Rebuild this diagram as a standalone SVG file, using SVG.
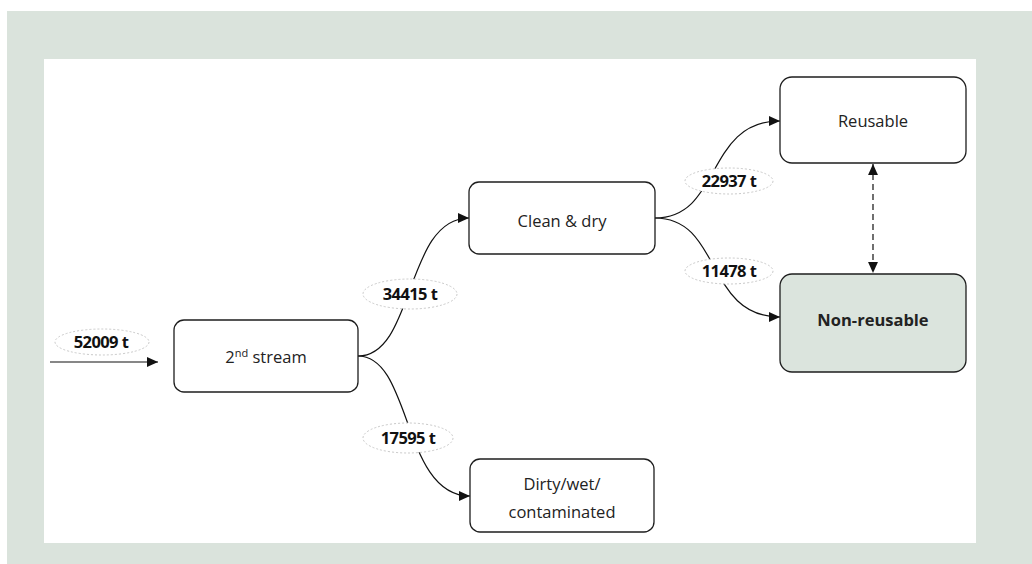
<svg xmlns="http://www.w3.org/2000/svg" width="1032" height="564" viewBox="0 0 1032 564">
  <style>
    .box { fill: #ffffff; stroke: #1e1e1e; stroke-width: 1.3; }
    .box.dark { fill: #dbe4dd; }
    .txt { font-family: "Open Sans", "Liberation Sans", sans-serif; font-size: 16.5px; fill: #222; text-anchor: middle; }
    .bold { font-weight: bold; }
    .tag { fill: #ffffff; stroke: #c9c9c9; stroke-width: 1; stroke-dasharray: 2 2; }
    .lbl { font-family: "Open Sans", "Liberation Sans", sans-serif; font-size: 16.5px; font-weight: bold; fill: #111; text-anchor: middle; letter-spacing: -0.6px; }
    .edge { fill: none; stroke: #111; stroke-width: 1.2; }
    .dash { stroke-dasharray: 6 4; }
  </style>
  <defs>
    <marker id="arrow" viewBox="0 0 10 10" refX="10" refY="5" markerWidth="11" markerHeight="11" markerUnits="userSpaceOnUse" orient="auto-start-reverse">
      <path d="M0,0.5 L10,5 L0,9.5 Z" fill="#111"/>
    </marker>
  </defs>

  <!-- panel -->
  <rect x="7" y="11" width="1025" height="553" fill="#dae3dc"/>
  <rect x="44" y="59" width="932" height="484" fill="#ffffff"/>

  <!-- connectors -->
  <g id="connectors">
    <path class="edge" d="M50,362 L158,362" marker-end="url(#arrow)"/>
    <path class="edge" d="M358,356 C415,356 405,218 469,218" marker-end="url(#arrow)"/>
    <path class="edge" d="M358,356 C412,356 402,496 470,496" marker-end="url(#arrow)"/>
    <path class="edge" d="M655,218 C722,218 705,121 780,121" marker-end="url(#arrow)"/>
    <path class="edge" d="M655,218 C722,218 705,317 780,317" marker-end="url(#arrow)"/>
    <path class="edge dash" d="M873,164 L873,273" marker-start="url(#arrow)" marker-end="url(#arrow)"/>
  </g>

  <!-- flow quantities -->
  <g id="label-52009">
    <ellipse class="tag" cx="102" cy="342" rx="47" ry="13"/>
    <text class="lbl" x="101" y="348">52009 t</text>
  </g>
  <g id="label-34415">
    <ellipse class="tag" cx="410" cy="294" rx="47" ry="15"/>
    <text class="lbl" x="410" y="300">34415 t</text>
  </g>
  <g id="label-17595">
    <ellipse class="tag" cx="408" cy="438" rx="45" ry="15"/>
    <text class="lbl" x="408" y="444">17595 t</text>
  </g>
  <g id="label-22937">
    <ellipse class="tag" cx="729" cy="181" rx="44" ry="13"/>
    <text class="lbl" x="729" y="187">22937 t</text>
  </g>
  <g id="label-11478">
    <ellipse class="tag" cx="729" cy="271" rx="44" ry="13"/>
    <text class="lbl" x="729" y="277">11478 t</text>
  </g>

  <!-- nodes -->
  <g id="node-second-stream">
    <rect class="box" x="174" y="320" width="184" height="72" rx="10"/>
    <text class="txt" x="266" y="363">2<tspan font-size="11" dy="-6">nd</tspan><tspan dy="6"> stream</tspan></text>
  </g>
  <g id="node-clean-dry">
    <rect class="box" x="469" y="182" width="186" height="72" rx="10"/>
    <text class="txt" x="562" y="227">Clean &amp; dry</text>
  </g>
  <g id="node-dirty">
    <rect class="box" x="470" y="459" width="184" height="73" rx="10"/>
    <text class="txt" x="562" y="490">Dirty/wet/</text>
    <text class="txt" x="562" y="518">contaminated</text>
  </g>
  <g id="node-reusable">
    <rect class="box" x="780" y="77" width="186" height="86" rx="12"/>
    <text class="txt" x="873" y="127">Reusable</text>
  </g>
  <g id="node-non-reusable">
    <rect class="box dark" x="780" y="274" width="186" height="98" rx="12"/>
    <text class="txt bold" x="873" y="326">Non-reusable</text>
  </g>
</svg>
